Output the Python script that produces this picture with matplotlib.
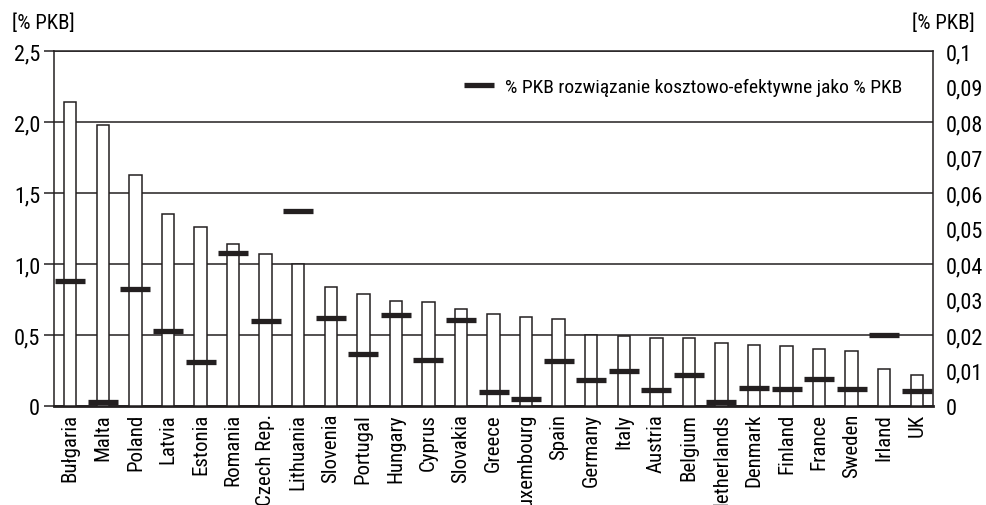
#!/usr/bin/env python3
"""Koszty jako % PKB wg kraju, z rozwiązaniem kosztowo-efektywnym na prawej osi."""

import matplotlib

matplotlib.use("Agg")
import matplotlib.pyplot as plt
from matplotlib import font_manager
from matplotlib.ticker import FuncFormatter, MultipleLocator

names = {f.name for f in font_manager.fontManager.ttflist}
family = [n for n in ("Roboto Condensed", "Liberation Sans Narrow", "Roboto") if n in names]
plt.rcParams["font.family"] = family + ["DejaVu Sans"]

countries = [
    "Bułgaria", "Malta", "Poland", "Latvia", "Estonia", "Romania", "Czech Rep.",
    "Lithuania", "Slovenia", "Portugal", "Hungary", "Cyprus", "Slovakia", "Greece",
    "Luxembourg", "Spain", "Germany", "Italy", "Austria", "Belgium", "Netherlands",
    "Denmark", "Finland", "France", "Sweden", "Irland", "UK",
]
# left axis, bars [% PKB]
bar_values = [
    2.14, 1.98, 1.63, 1.35, 1.26, 1.14, 1.07, 1.0, 0.84, 0.79, 0.74, 0.73, 0.68,
    0.65, 0.63, 0.61, 0.50, 0.49, 0.48, 0.48, 0.44, 0.43, 0.42, 0.40, 0.39, 0.26, 0.22,
]
# right axis, cost-effective solution [% PKB]
cost_eff = [
    0.0352, 0.001, 0.033, 0.0211, 0.0125, 0.043, 0.024, 0.0548, 0.0248, 0.0147,
    0.0257, 0.013, 0.0242, 0.004, 0.002, 0.0128, 0.0073, 0.0099, 0.0046, 0.0087,
    0.001, 0.0051, 0.0048, 0.0076, 0.0048, 0.0201, 0.0042,
]
legend_label = "% PKB rozwiązanie kosztowo-efektywne jako % PKB"

ink = "#231f20"


def comma(v, _pos):
    if abs(v) < 1e-9:
        return "0"
    s = f"{v:.2f}".rstrip("0")
    if s.endswith("."):
        s += "0"
    return s.replace(".", ",")


fig = plt.figure(figsize=(9.86, 5.06), dpi=100)
ax = fig.add_axes([0.0548, 0.1957, 0.8915, 0.7016])
x = list(range(len(countries)))

ax.bar(x, bar_values, width=0.38, color="white", edgecolor=ink, linewidth=1.1, zorder=3)
ax.set_xlim(-0.5, len(countries) - 0.5)
ax.set_ylim(0, 2.5)
ax.yaxis.set_major_locator(MultipleLocator(0.5))
ax.yaxis.set_major_formatter(FuncFormatter(lambda v, p: "0" if v == 0 else f"{v:.1f}".replace(".", ",")))
ax.grid(axis="y", color=ink, linewidth=1.1, zorder=0)
ax.set_axisbelow(True)
ax.set_xticks(x)
ax.set_xticklabels(countries, rotation=90, fontsize=15)
ax.tick_params(axis="x", length=0, pad=5)
ax.tick_params(axis="y", labelsize=16, length=7, width=1.1, color=ink, pad=3)
for side in ("left", "right", "top"):
    ax.spines[side].set_linewidth(1.1)
    ax.spines[side].set_color(ink)
ax.spines["bottom"].set_linewidth(2)
ax.spines["bottom"].set_color(ink)

ax2 = ax.twinx()
ax2.set_ylim(0, 0.1)
ax2.plot(x, cost_eff, linestyle="none", marker="_", markersize=21,
         markeredgewidth=3.8, color=ink, label=legend_label, zorder=5)
ax2.yaxis.set_major_locator(MultipleLocator(0.01))
ax2.yaxis.set_major_formatter(FuncFormatter(comma))
ax2.yaxis.set_minor_locator(MultipleLocator(0.02))
ax2.tick_params(axis="y", which="major", labelsize=16, length=0, pad=9)
ax2.tick_params(axis="y", which="minor", length=7, width=1.1, color=ink)
for side in ("left", "right", "top", "bottom"):
    ax2.spines[side].set_visible(False)

ax2.legend(loc="center right", bbox_to_anchor=(0.985, 0.9), frameon=False,
           fontsize=14, handlelength=1.5, handletextpad=0.6)

fig.text(0.012, 0.955, "[% PKB]", fontsize=15, va="center", ha="left")
fig.text(0.989, 0.955, "[% PKB]", fontsize=15, va="center", ha="right")

fig.savefig("out.png", dpi=100)
plt.close(fig)
